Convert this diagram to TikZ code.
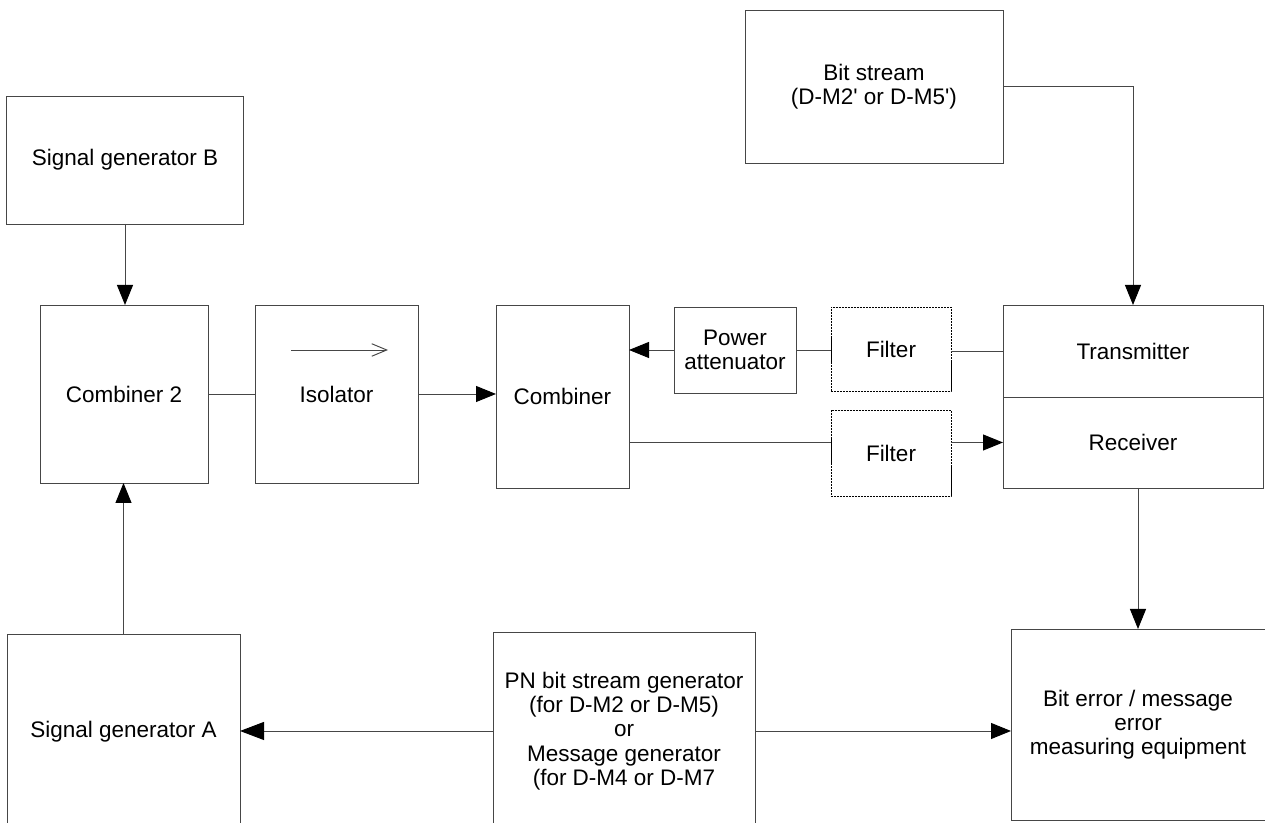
\documentclass[tikz,border=0pt]{standalone}
\usepackage{fontspec}
\setmainfont{Liberation Sans}
\usepackage{xcolor}
\usepackage{tikz}
\usetikzlibrary{arrows.meta}
\definecolor{LineGray}{RGB}{70,70,70}

\begin{document}
\begin{tikzpicture}[
    block/.style={draw=LineGray, rectangle, line width=0.55pt, inner sep=0pt, outer sep=0pt, align=center, font=\fontsize{12.8}{13.8}\selectfont},
    filterbox/.style={block, draw=black, dash pattern=on 1.2pt off 0.5pt},
    link/.style={draw=LineGray, line width=0.55pt},
    arr/.style={link, -{Triangle[length=0.4cm, width=0.32cm, color=black]}},
    bigarr/.style={link, -{Triangle[length=0.48cm, width=0.36cm, color=black]}}
]
    \useasboundingbox (0,0) rectangle (25.3,16.46);

    \node (SigB) [block, minimum width=4.74cm, minimum height=2.56cm] at (2.5,13.26) {Signal generator B};
    \node (Comb2) [block, minimum width=3.36cm, minimum height=3.56cm] at (2.48,8.58) {Combiner 2};
    \node (SigA) [block, minimum width=4.66cm, minimum height=3.92cm] at (2.47,1.82) {Signal generator A};
    \node (Iso) [block, minimum width=3.26cm, minimum height=3.56cm] at (6.73,8.58) {Isolator};
    \node (Comb) [block, minimum width=2.66cm, minimum height=3.66cm] at (11.25,8.53) {Combiner};
    \node (PowAtt) [block, minimum width=2.44cm, minimum height=1.72cm] at (14.7,9.46) {Power\\attenuator};
    \node (FiltA) [filterbox, minimum width=2.4cm, minimum height=1.68cm] at (17.82,9.48) {Filter};
    \node (FiltB) [filterbox, minimum width=2.4cm, minimum height=1.72cm] at (17.82,7.4) {Filter};
    \node (Trans) [block, minimum width=5.2cm, minimum height=1.84cm] at (22.66,9.44) {Transmitter};
    \node (Recv) [block, minimum width=5.2cm, minimum height=1.82cm] at (22.66,7.61) {Receiver};
    \node (BitS) [block, minimum width=5.16cm, minimum height=3.06cm] at (17.48,14.73) {Bit stream\\(D-M2\textquotesingle{} or D-M5\textquotesingle)};
    \node (PNGen) [block, minimum width=5.24cm, minimum height=3.96cm] at (12.48,1.84) {PN bit stream generator\\(for D-M2 or D-M5)\\or\\Message generator\\(for D-M4 or D-M7};
    \node (BitErr) [block, minimum width=5.08cm, minimum height=3.82cm] at (22.76,1.97) {Bit error / message\\error\\measuring equipment};

    % isolator symbol
    \draw[link, -{Straight Barb[length=0.3cm, width=0.25cm]}] ([xshift=-0.91cm, yshift=0.88cm]Iso.center) -- ++(1.94,0);

    \draw[arr] (SigB.south) -- (SigB.south |- Comb2.north);
    \draw[arr] (SigA.north) -- (SigA.north |- Comb2.south);
    \draw[link] (Comb2.east) -- (Iso.west);
    \draw[arr] (Iso.east) -- (Iso.east -| Comb.west);
    \draw[arr] (PowAtt.west) -- (PowAtt.west -| Comb.east);
    \draw[link] (PowAtt.east) -- (PowAtt.east -| FiltA.west);
    \draw[link] (Trans.west) -- (Trans.west -| FiltA.east);
    \draw[link] (Recv.west -| Comb.east) -- (Recv.west -| FiltB.west);
    \draw[arr] (Recv.west -| FiltB.east) -- (Recv.west);
    \draw[arr] (BitS.east) -| (Trans.north);
    \draw[arr] (Recv.south -| BitErr.north) -- (BitErr.north);
    \draw[bigarr] (PNGen.west) -- (PNGen.west -| SigA.east);
    \draw[arr] (PNGen.east) -- (PNGen.east -| BitErr.west);
\end{tikzpicture}
\end{document}
